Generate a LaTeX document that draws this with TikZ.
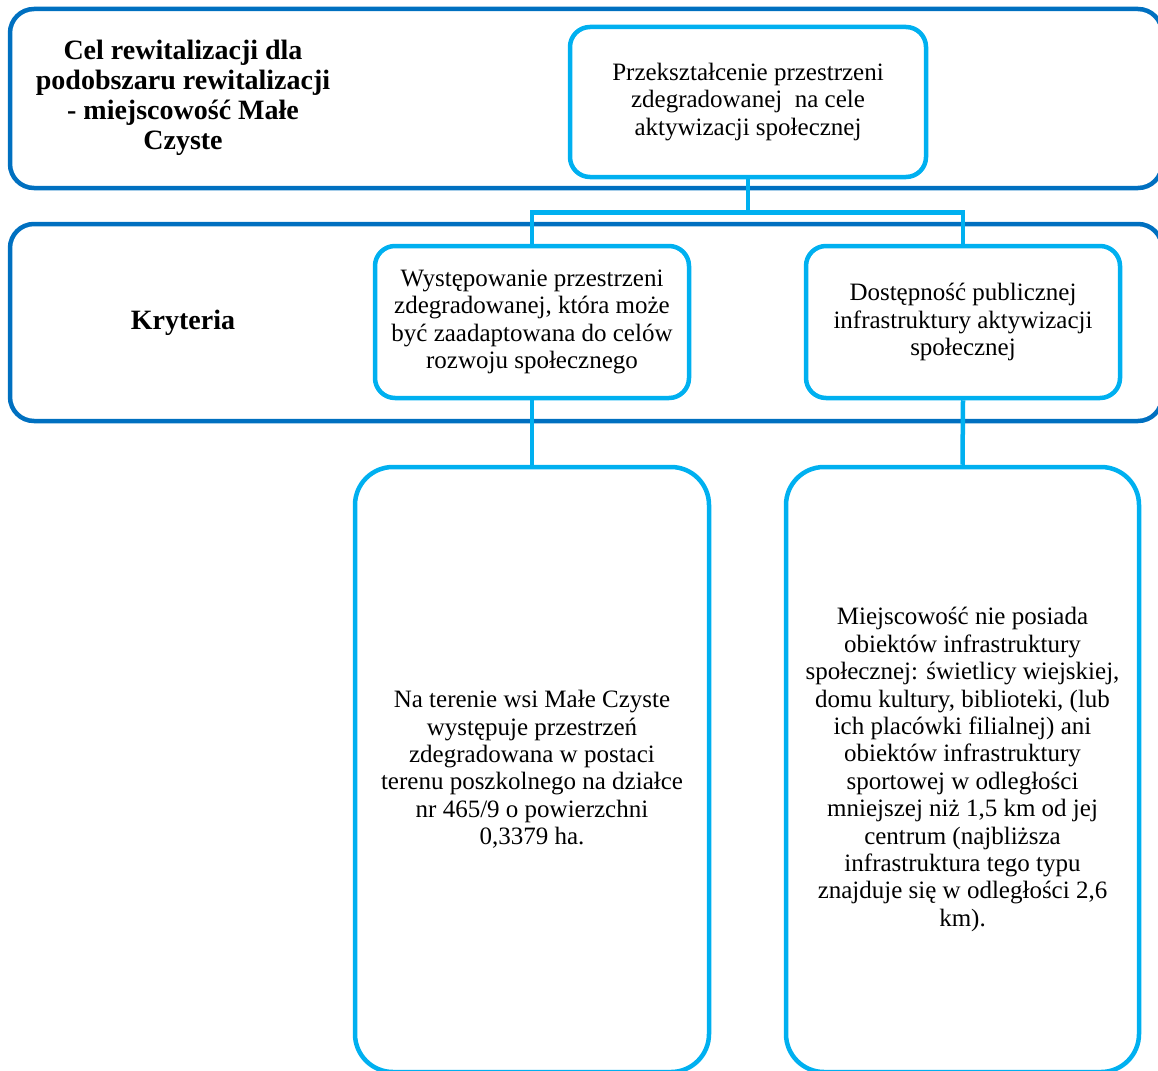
\documentclass[tikz,border=0pt]{standalone}
\usepackage{fontspec}
\setmainfont{Liberation Serif}
\usetikzlibrary{calc}
\definecolor{darkblue}{HTML}{0070C0}
\definecolor{lightblue}{HTML}{00B0F0}
\begin{document}
\begin{tikzpicture}[x=1pt,y=1pt,
  outerbox/.style={draw=darkblue, line width=4.5pt, rounded corners=24pt, inner sep=0pt},
  innerbox/.style={draw=lightblue, line width=4.5pt, rounded corners=20pt, inner sep=0pt, align=center,
    font=\fontsize{25}{27.4}\selectfont},
  bigbox/.style={innerbox, rounded corners=38pt},
  heading/.style={align=center, inner sep=0pt, font=\fontsize{28}{30}\selectfont\bfseries},
  conn/.style={draw=lightblue, line width=4.5pt}]
\useasboundingbox (0,0) rectangle (1158,-1070);
\clip (0,0) rectangle (1158,-1070);
\node[outerbox, minimum width=1152pt, minimum height=179pt] (outer1) at (586,-98.5) {};
\node[outerbox, minimum width=1152pt, minimum height=197pt] (outer2) at (586,-322.5) {};
\node[heading] (h1) at (183,-98) {Cel rewitalizacji dla\\podobszaru rewitalizacji\\- miejscowość Małe\\Czyste};
\node[heading] (h2) at (183,-323) {Kryteria};
\node[innerbox, minimum width=356pt, minimum height=150pt] (goal) at (748,-102)
  {Przekształcenie przestrzeni\\zdegradowanej\ \ na cele\\aktywizacji społecznej};
\node[innerbox, minimum width=314pt, minimum height=152pt] (c1) at (532,-322)
  {Występowanie przestrzeni\\zdegradowanej, która może\\być zaadaptowana do celów\\rozwoju społecznego};
\node[innerbox, minimum width=314pt, minimum height=152pt] (c2) at (963,-322)
  {Dostępność publicznej\\infrastruktury aktywizacji\\społecznej};
\node[bigbox, minimum width=354pt, minimum height=605pt] (b1) at (532,-769.5)
  {Na terenie wsi Małe Czyste\\występuje przestrzeń\\zdegradowana w postaci\\terenu poszkolnego na działce\\nr 465/9 o powierzchni\\0,3379 ha.};
\node[bigbox, minimum width=353pt, minimum height=605pt] (b2) at (962.5,-769.5)
  {Miejscowość nie posiada\\obiektów infrastruktury\\społecznej: świetlicy wiejskiej,\\domu kultury, biblioteki, (lub\\ich placówki filialnej) ani\\obiektów infrastruktury\\sportowej w odległości\\mniejszej niż 1,5 km od jej\\centrum (najbliższa\\infrastruktura tego typu\\znajduje się w odległości 2,6\\km).};
\coordinate (bus) at ($(goal.south)+(0,-33)$);
\draw[conn] (goal.south) -- (bus) -| (c1.north);
\draw[conn] (bus) -| (c2.north);
\draw[conn] (c1.south) -- (b1.north);
\draw[conn] (c2.south) -- (b2.north);
\end{tikzpicture}
\end{document}
